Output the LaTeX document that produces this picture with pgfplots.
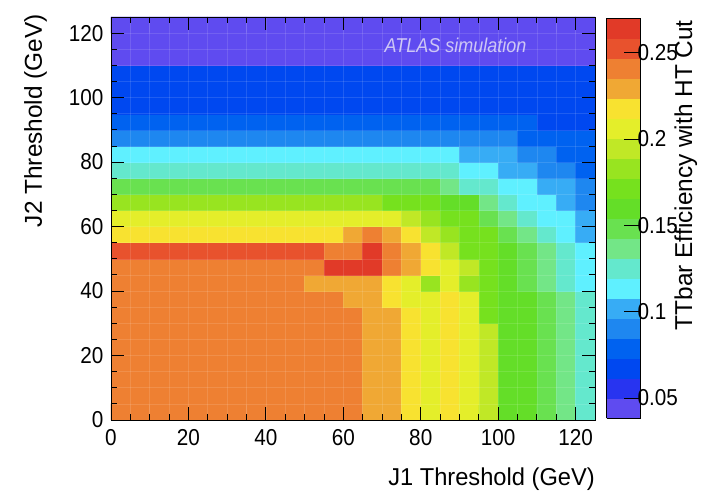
\documentclass[border=0pt]{standalone}
\usepackage{fontspec}
\setmainfont{Liberation Sans}
\newfontfamily\tickfont{Liberation Sans}[FakeStretch=0.9]
\newfontfamily\titlefont{Liberation Sans}[FakeStretch=0.97]
\newfontfamily\rotfont{Liberation Sans}
\usepackage{pgfplots}
\pgfplotsset{compat=1.18}
\pgfplotsset{
  colormap={rootpal}{
    rgb255=(95,75,240) rgb255=(40,52,240) rgb255=(0,72,240) rgb255=(0,98,240)
    rgb255=(30,135,240) rgb255=(55,172,245) rgb255=(95,240,255) rgb255=(100,232,205)
    rgb255=(115,230,135) rgb255=(105,225,80) rgb255=(100,222,40) rgb255=(118,225,30)
    rgb255=(152,228,32) rgb255=(192,232,38) rgb255=(228,238,42) rgb255=(248,226,48)
    rgb255=(240,168,52) rgb255=(238,128,50) rgb255=(232,82,45) rgb255=(225,58,40)
  }
}
\definecolor{atlastext}{RGB}{205,198,245}
\begin{document}
\begin{tikzpicture}
\useasboundingbox (-111pt,-71pt) rectangle (594pt,420pt);
\begin{axis}[
  name=main,
  scale only axis, width=484pt, height=403pt,
  xmin=0, xmax=125, ymin=0, ymax=125,
  xtick={0,20,...,120}, ytick={0,20,...,120},
  minor tick num=3,
  tick align=inside,
  major tick length=13pt, minor tick length=6.5pt,
  tick style={black, line width=0.9pt},
  axis line style={black, line width=0.9pt},
  axis on top,
  grid=both,
  major grid style={white, opacity=0.12, line width=0.6pt},
  minor grid style={white, opacity=0.12, line width=0.6pt},
  /pgf/number format/assume math mode=true,
  ticklabel style={font=\tickfont\fontsize{23}{26}\selectfont},
  xticklabel style={yshift=-6pt},
  yticklabel style={xshift=-4pt},
  colormap name=rootpal,
  colormap access=piecewise constant,
  point meta min=0.0384, point meta max=0.2701,
  colorbar,
  colorbar style={
    name=cbar,
    at={(parent axis.north east)}, anchor=north west, xshift=3pt, yshift=-1pt,
    width=34pt, height=400pt,
    ytick={0.05,0.1,0.15,0.2,0.25},
    yticklabels={0.05,0.1,0.15,0.2,0.25},
    ytick pos=right,
    tick align=inside,
    major tick length=17pt,
    tick style={black, line width=0.9pt},
    axis line style={black, line width=0.9pt},
    yticklabel style={font=\tickfont\fontsize{23}{26}\selectfont, xshift=-6.5pt},
  },
]
\addplot[matrix plot*, mesh/cols=25, point meta=explicit] table[row sep=\\, meta index=2] {
2.5 2.5 0.241\\7.5 2.5 0.241\\12.5 2.5 0.241\\17.5 2.5 0.241\\22.5 2.5 0.241\\27.5 2.5 0.241\\32.5 2.5 0.241\\37.5 2.5 0.241\\42.5 2.5 0.241\\47.5 2.5 0.241\\52.5 2.5 0.241\\57.5 2.5 0.241\\62.5 2.5 0.241\\67.5 2.5 0.230\\72.5 2.5 0.230\\77.5 2.5 0.218\\82.5 2.5 0.206\\87.5 2.5 0.218\\92.5 2.5 0.206\\97.5 2.5 0.195\\102.5 2.5 0.160\\107.5 2.5 0.160\\112.5 2.5 0.148\\117.5 2.5 0.137\\122.5 2.5 0.125\\
2.5 7.5 0.241\\7.5 7.5 0.241\\12.5 7.5 0.241\\17.5 7.5 0.241\\22.5 7.5 0.241\\27.5 7.5 0.241\\32.5 7.5 0.241\\37.5 7.5 0.241\\42.5 7.5 0.241\\47.5 7.5 0.241\\52.5 7.5 0.241\\57.5 7.5 0.241\\62.5 7.5 0.241\\67.5 7.5 0.230\\72.5 7.5 0.230\\77.5 7.5 0.218\\82.5 7.5 0.206\\87.5 7.5 0.218\\92.5 7.5 0.206\\97.5 7.5 0.195\\102.5 7.5 0.160\\107.5 7.5 0.160\\112.5 7.5 0.148\\117.5 7.5 0.137\\122.5 7.5 0.125\\
2.5 12.5 0.241\\7.5 12.5 0.241\\12.5 12.5 0.241\\17.5 12.5 0.241\\22.5 12.5 0.241\\27.5 12.5 0.241\\32.5 12.5 0.241\\37.5 12.5 0.241\\42.5 12.5 0.241\\47.5 12.5 0.241\\52.5 12.5 0.241\\57.5 12.5 0.241\\62.5 12.5 0.241\\67.5 12.5 0.230\\72.5 12.5 0.230\\77.5 12.5 0.218\\82.5 12.5 0.206\\87.5 12.5 0.218\\92.5 12.5 0.206\\97.5 12.5 0.195\\102.5 12.5 0.160\\107.5 12.5 0.160\\112.5 12.5 0.148\\117.5 12.5 0.137\\122.5 12.5 0.125\\
2.5 17.5 0.241\\7.5 17.5 0.241\\12.5 17.5 0.241\\17.5 17.5 0.241\\22.5 17.5 0.241\\27.5 17.5 0.241\\32.5 17.5 0.241\\37.5 17.5 0.241\\42.5 17.5 0.241\\47.5 17.5 0.241\\52.5 17.5 0.241\\57.5 17.5 0.241\\62.5 17.5 0.241\\67.5 17.5 0.230\\72.5 17.5 0.230\\77.5 17.5 0.218\\82.5 17.5 0.206\\87.5 17.5 0.218\\92.5 17.5 0.206\\97.5 17.5 0.195\\102.5 17.5 0.160\\107.5 17.5 0.160\\112.5 17.5 0.148\\117.5 17.5 0.137\\122.5 17.5 0.125\\
2.5 22.5 0.241\\7.5 22.5 0.241\\12.5 22.5 0.241\\17.5 22.5 0.241\\22.5 22.5 0.241\\27.5 22.5 0.241\\32.5 22.5 0.241\\37.5 22.5 0.241\\42.5 22.5 0.241\\47.5 22.5 0.241\\52.5 22.5 0.241\\57.5 22.5 0.241\\62.5 22.5 0.241\\67.5 22.5 0.230\\72.5 22.5 0.230\\77.5 22.5 0.218\\82.5 22.5 0.206\\87.5 22.5 0.218\\92.5 22.5 0.206\\97.5 22.5 0.195\\102.5 22.5 0.160\\107.5 22.5 0.160\\112.5 22.5 0.148\\117.5 22.5 0.137\\122.5 22.5 0.125\\
2.5 27.5 0.241\\7.5 27.5 0.241\\12.5 27.5 0.241\\17.5 27.5 0.241\\22.5 27.5 0.241\\27.5 27.5 0.241\\32.5 27.5 0.241\\37.5 27.5 0.241\\42.5 27.5 0.241\\47.5 27.5 0.241\\52.5 27.5 0.241\\57.5 27.5 0.241\\62.5 27.5 0.241\\67.5 27.5 0.230\\72.5 27.5 0.230\\77.5 27.5 0.218\\82.5 27.5 0.206\\87.5 27.5 0.218\\92.5 27.5 0.206\\97.5 27.5 0.195\\102.5 27.5 0.160\\107.5 27.5 0.160\\112.5 27.5 0.148\\117.5 27.5 0.137\\122.5 27.5 0.125\\
2.5 32.5 0.241\\7.5 32.5 0.241\\12.5 32.5 0.241\\17.5 32.5 0.241\\22.5 32.5 0.241\\27.5 32.5 0.241\\32.5 32.5 0.241\\37.5 32.5 0.241\\42.5 32.5 0.241\\47.5 32.5 0.241\\52.5 32.5 0.241\\57.5 32.5 0.241\\62.5 32.5 0.241\\67.5 32.5 0.230\\72.5 32.5 0.230\\77.5 32.5 0.218\\82.5 32.5 0.206\\87.5 32.5 0.218\\92.5 32.5 0.206\\97.5 32.5 0.172\\102.5 32.5 0.160\\107.5 32.5 0.160\\112.5 32.5 0.148\\117.5 32.5 0.137\\122.5 32.5 0.125\\
2.5 37.5 0.241\\7.5 37.5 0.241\\12.5 37.5 0.241\\17.5 37.5 0.241\\22.5 37.5 0.241\\27.5 37.5 0.241\\32.5 37.5 0.241\\37.5 37.5 0.241\\42.5 37.5 0.241\\47.5 37.5 0.241\\52.5 37.5 0.241\\57.5 37.5 0.241\\62.5 37.5 0.230\\67.5 37.5 0.230\\72.5 37.5 0.218\\77.5 37.5 0.206\\82.5 37.5 0.206\\87.5 37.5 0.218\\92.5 37.5 0.206\\97.5 37.5 0.172\\102.5 37.5 0.160\\107.5 37.5 0.160\\112.5 37.5 0.148\\117.5 37.5 0.137\\122.5 37.5 0.125\\
2.5 42.5 0.241\\7.5 42.5 0.241\\12.5 42.5 0.241\\17.5 42.5 0.241\\22.5 42.5 0.241\\27.5 42.5 0.241\\32.5 42.5 0.241\\37.5 42.5 0.241\\42.5 42.5 0.241\\47.5 42.5 0.241\\52.5 42.5 0.230\\57.5 42.5 0.230\\62.5 42.5 0.230\\67.5 42.5 0.230\\72.5 42.5 0.218\\77.5 42.5 0.206\\82.5 42.5 0.183\\87.5 42.5 0.206\\92.5 42.5 0.183\\97.5 42.5 0.172\\102.5 42.5 0.160\\107.5 42.5 0.148\\112.5 42.5 0.137\\117.5 42.5 0.125\\122.5 42.5 0.114\\
2.5 47.5 0.241\\7.5 47.5 0.241\\12.5 47.5 0.241\\17.5 47.5 0.241\\22.5 47.5 0.241\\27.5 47.5 0.241\\32.5 47.5 0.241\\37.5 47.5 0.241\\42.5 47.5 0.241\\47.5 47.5 0.241\\52.5 47.5 0.241\\57.5 47.5 0.264\\62.5 47.5 0.264\\67.5 47.5 0.264\\72.5 47.5 0.241\\77.5 47.5 0.230\\82.5 47.5 0.218\\87.5 47.5 0.206\\92.5 47.5 0.195\\97.5 47.5 0.172\\102.5 47.5 0.160\\107.5 47.5 0.148\\112.5 47.5 0.137\\117.5 47.5 0.125\\122.5 47.5 0.114\\
2.5 52.5 0.253\\7.5 52.5 0.253\\12.5 52.5 0.253\\17.5 52.5 0.253\\22.5 52.5 0.253\\27.5 52.5 0.253\\32.5 52.5 0.253\\37.5 52.5 0.253\\42.5 52.5 0.253\\47.5 52.5 0.253\\52.5 52.5 0.253\\57.5 52.5 0.241\\62.5 52.5 0.241\\67.5 52.5 0.264\\72.5 52.5 0.241\\77.5 52.5 0.230\\82.5 52.5 0.218\\87.5 52.5 0.195\\92.5 52.5 0.172\\97.5 52.5 0.172\\102.5 52.5 0.160\\107.5 52.5 0.148\\112.5 52.5 0.137\\117.5 52.5 0.125\\122.5 52.5 0.114\\
2.5 57.5 0.218\\7.5 57.5 0.218\\12.5 57.5 0.218\\17.5 57.5 0.218\\22.5 57.5 0.218\\27.5 57.5 0.218\\32.5 57.5 0.218\\37.5 57.5 0.218\\42.5 57.5 0.218\\47.5 57.5 0.218\\52.5 57.5 0.218\\57.5 57.5 0.218\\62.5 57.5 0.230\\67.5 57.5 0.241\\72.5 57.5 0.230\\77.5 57.5 0.218\\82.5 57.5 0.195\\87.5 57.5 0.183\\92.5 57.5 0.172\\97.5 57.5 0.172\\102.5 57.5 0.148\\107.5 57.5 0.137\\112.5 57.5 0.125\\117.5 57.5 0.114\\122.5 57.5 0.102\\
2.5 62.5 0.206\\7.5 62.5 0.206\\12.5 62.5 0.206\\17.5 62.5 0.206\\22.5 62.5 0.206\\27.5 62.5 0.206\\32.5 62.5 0.206\\37.5 62.5 0.206\\42.5 62.5 0.206\\47.5 62.5 0.206\\52.5 62.5 0.206\\57.5 62.5 0.206\\62.5 62.5 0.206\\67.5 62.5 0.206\\72.5 62.5 0.206\\77.5 62.5 0.195\\82.5 62.5 0.183\\87.5 62.5 0.172\\92.5 62.5 0.172\\97.5 62.5 0.148\\102.5 62.5 0.137\\107.5 62.5 0.125\\112.5 62.5 0.114\\117.5 62.5 0.114\\122.5 62.5 0.102\\
2.5 67.5 0.183\\7.5 67.5 0.183\\12.5 67.5 0.183\\17.5 67.5 0.183\\22.5 67.5 0.183\\27.5 67.5 0.183\\32.5 67.5 0.183\\37.5 67.5 0.183\\42.5 67.5 0.183\\47.5 67.5 0.183\\52.5 67.5 0.183\\57.5 67.5 0.183\\62.5 67.5 0.183\\67.5 67.5 0.183\\72.5 67.5 0.172\\77.5 67.5 0.172\\82.5 67.5 0.172\\87.5 67.5 0.160\\92.5 67.5 0.160\\97.5 67.5 0.137\\102.5 67.5 0.125\\107.5 67.5 0.114\\112.5 67.5 0.114\\117.5 67.5 0.102\\122.5 67.5 0.091\\
2.5 72.5 0.148\\7.5 72.5 0.148\\12.5 72.5 0.148\\17.5 72.5 0.148\\22.5 72.5 0.148\\27.5 72.5 0.148\\32.5 72.5 0.148\\37.5 72.5 0.148\\42.5 72.5 0.148\\47.5 72.5 0.148\\52.5 72.5 0.148\\57.5 72.5 0.148\\62.5 72.5 0.148\\67.5 72.5 0.148\\72.5 72.5 0.148\\77.5 72.5 0.148\\82.5 72.5 0.148\\87.5 72.5 0.137\\92.5 72.5 0.125\\97.5 72.5 0.125\\102.5 72.5 0.114\\107.5 72.5 0.114\\112.5 72.5 0.102\\117.5 72.5 0.102\\122.5 72.5 0.091\\
2.5 77.5 0.125\\7.5 77.5 0.125\\12.5 77.5 0.125\\17.5 77.5 0.125\\22.5 77.5 0.125\\27.5 77.5 0.125\\32.5 77.5 0.125\\37.5 77.5 0.125\\42.5 77.5 0.125\\47.5 77.5 0.125\\52.5 77.5 0.125\\57.5 77.5 0.125\\62.5 77.5 0.125\\67.5 77.5 0.125\\72.5 77.5 0.125\\77.5 77.5 0.125\\82.5 77.5 0.125\\87.5 77.5 0.125\\92.5 77.5 0.114\\97.5 77.5 0.114\\102.5 77.5 0.102\\107.5 77.5 0.102\\112.5 77.5 0.091\\117.5 77.5 0.091\\122.5 77.5 0.079\\
2.5 82.5 0.114\\7.5 82.5 0.114\\12.5 82.5 0.114\\17.5 82.5 0.114\\22.5 82.5 0.114\\27.5 82.5 0.114\\32.5 82.5 0.114\\37.5 82.5 0.114\\42.5 82.5 0.114\\47.5 82.5 0.114\\52.5 82.5 0.114\\57.5 82.5 0.114\\62.5 82.5 0.114\\67.5 82.5 0.114\\72.5 82.5 0.114\\77.5 82.5 0.114\\82.5 82.5 0.114\\87.5 82.5 0.114\\92.5 82.5 0.102\\97.5 82.5 0.102\\102.5 82.5 0.102\\107.5 82.5 0.091\\112.5 82.5 0.091\\117.5 82.5 0.079\\122.5 82.5 0.079\\
2.5 87.5 0.091\\7.5 87.5 0.091\\12.5 87.5 0.091\\17.5 87.5 0.091\\22.5 87.5 0.091\\27.5 87.5 0.091\\32.5 87.5 0.091\\37.5 87.5 0.091\\42.5 87.5 0.091\\47.5 87.5 0.091\\52.5 87.5 0.091\\57.5 87.5 0.091\\62.5 87.5 0.091\\67.5 87.5 0.091\\72.5 87.5 0.091\\77.5 87.5 0.091\\82.5 87.5 0.091\\87.5 87.5 0.091\\92.5 87.5 0.091\\97.5 87.5 0.091\\102.5 87.5 0.091\\107.5 87.5 0.079\\112.5 87.5 0.079\\117.5 87.5 0.079\\122.5 87.5 0.079\\
2.5 92.5 0.079\\7.5 92.5 0.079\\12.5 92.5 0.079\\17.5 92.5 0.079\\22.5 92.5 0.079\\27.5 92.5 0.079\\32.5 92.5 0.079\\37.5 92.5 0.079\\42.5 92.5 0.079\\47.5 92.5 0.079\\52.5 92.5 0.079\\57.5 92.5 0.079\\62.5 92.5 0.079\\67.5 92.5 0.079\\72.5 92.5 0.079\\77.5 92.5 0.079\\82.5 92.5 0.079\\87.5 92.5 0.079\\92.5 92.5 0.079\\97.5 92.5 0.079\\102.5 92.5 0.079\\107.5 92.5 0.079\\112.5 92.5 0.067\\117.5 92.5 0.067\\122.5 92.5 0.067\\
2.5 97.5 0.067\\7.5 97.5 0.067\\12.5 97.5 0.067\\17.5 97.5 0.067\\22.5 97.5 0.067\\27.5 97.5 0.067\\32.5 97.5 0.067\\37.5 97.5 0.067\\42.5 97.5 0.067\\47.5 97.5 0.067\\52.5 97.5 0.067\\57.5 97.5 0.067\\62.5 97.5 0.067\\67.5 97.5 0.067\\72.5 97.5 0.067\\77.5 97.5 0.067\\82.5 97.5 0.067\\87.5 97.5 0.067\\92.5 97.5 0.067\\97.5 97.5 0.067\\102.5 97.5 0.067\\107.5 97.5 0.067\\112.5 97.5 0.067\\117.5 97.5 0.067\\122.5 97.5 0.067\\
2.5 102.5 0.067\\7.5 102.5 0.067\\12.5 102.5 0.067\\17.5 102.5 0.067\\22.5 102.5 0.067\\27.5 102.5 0.067\\32.5 102.5 0.067\\37.5 102.5 0.067\\42.5 102.5 0.067\\47.5 102.5 0.067\\52.5 102.5 0.067\\57.5 102.5 0.067\\62.5 102.5 0.067\\67.5 102.5 0.067\\72.5 102.5 0.067\\77.5 102.5 0.067\\82.5 102.5 0.067\\87.5 102.5 0.067\\92.5 102.5 0.067\\97.5 102.5 0.067\\102.5 102.5 0.067\\107.5 102.5 0.067\\112.5 102.5 0.067\\117.5 102.5 0.067\\122.5 102.5 0.067\\
2.5 107.5 0.067\\7.5 107.5 0.067\\12.5 107.5 0.067\\17.5 107.5 0.067\\22.5 107.5 0.067\\27.5 107.5 0.067\\32.5 107.5 0.067\\37.5 107.5 0.067\\42.5 107.5 0.067\\47.5 107.5 0.067\\52.5 107.5 0.067\\57.5 107.5 0.067\\62.5 107.5 0.067\\67.5 107.5 0.067\\72.5 107.5 0.067\\77.5 107.5 0.067\\82.5 107.5 0.067\\87.5 107.5 0.067\\92.5 107.5 0.067\\97.5 107.5 0.067\\102.5 107.5 0.067\\107.5 107.5 0.067\\112.5 107.5 0.067\\117.5 107.5 0.067\\122.5 107.5 0.067\\
2.5 112.5 0.044\\7.5 112.5 0.044\\12.5 112.5 0.044\\17.5 112.5 0.044\\22.5 112.5 0.044\\27.5 112.5 0.044\\32.5 112.5 0.044\\37.5 112.5 0.044\\42.5 112.5 0.044\\47.5 112.5 0.044\\52.5 112.5 0.044\\57.5 112.5 0.044\\62.5 112.5 0.044\\67.5 112.5 0.044\\72.5 112.5 0.044\\77.5 112.5 0.044\\82.5 112.5 0.044\\87.5 112.5 0.044\\92.5 112.5 0.044\\97.5 112.5 0.044\\102.5 112.5 0.044\\107.5 112.5 0.044\\112.5 112.5 0.044\\117.5 112.5 0.044\\122.5 112.5 0.044\\
2.5 117.5 0.044\\7.5 117.5 0.044\\12.5 117.5 0.044\\17.5 117.5 0.044\\22.5 117.5 0.044\\27.5 117.5 0.044\\32.5 117.5 0.044\\37.5 117.5 0.044\\42.5 117.5 0.044\\47.5 117.5 0.044\\52.5 117.5 0.044\\57.5 117.5 0.044\\62.5 117.5 0.044\\67.5 117.5 0.044\\72.5 117.5 0.044\\77.5 117.5 0.044\\82.5 117.5 0.044\\87.5 117.5 0.044\\92.5 117.5 0.044\\97.5 117.5 0.044\\102.5 117.5 0.044\\107.5 117.5 0.044\\112.5 117.5 0.044\\117.5 117.5 0.044\\122.5 117.5 0.044\\
2.5 122.5 0.044\\7.5 122.5 0.044\\12.5 122.5 0.044\\17.5 122.5 0.044\\22.5 122.5 0.044\\27.5 122.5 0.044\\32.5 122.5 0.044\\37.5 122.5 0.044\\42.5 122.5 0.044\\47.5 122.5 0.044\\52.5 122.5 0.044\\57.5 122.5 0.044\\62.5 122.5 0.044\\67.5 122.5 0.044\\72.5 122.5 0.044\\77.5 122.5 0.044\\82.5 122.5 0.044\\87.5 122.5 0.044\\92.5 122.5 0.044\\97.5 122.5 0.044\\102.5 122.5 0.044\\107.5 122.5 0.044\\112.5 122.5 0.044\\117.5 122.5 0.044\\122.5 122.5 0.044\\
};
\node[font=\tickfont\itshape\fontsize{20}{24}\selectfont, text=atlastext, inner sep=0pt] at (axis cs:89,116.3) {ATLAS simulation};
\end{axis}
\node[rotate=90, anchor=base east, inner sep=0pt, font=\rotfont\fontsize{24.4}{28}\selectfont] at (-69pt,406pt) {J2 Threshold (GeV)};
\node[anchor=base east, inner sep=0pt, font=\titlefont\fontsize{24.4}{28}\selectfont] at (484pt,-65pt) {J1 Threshold (GeV)};
\node[rotate=90, anchor=base east, inner sep=0pt, font=\rotfont\fontsize{24.4}{28}\selectfont] at (581pt,400pt) {TTbar Efficiency with HT Cut};
\end{tikzpicture}
\end{document}
